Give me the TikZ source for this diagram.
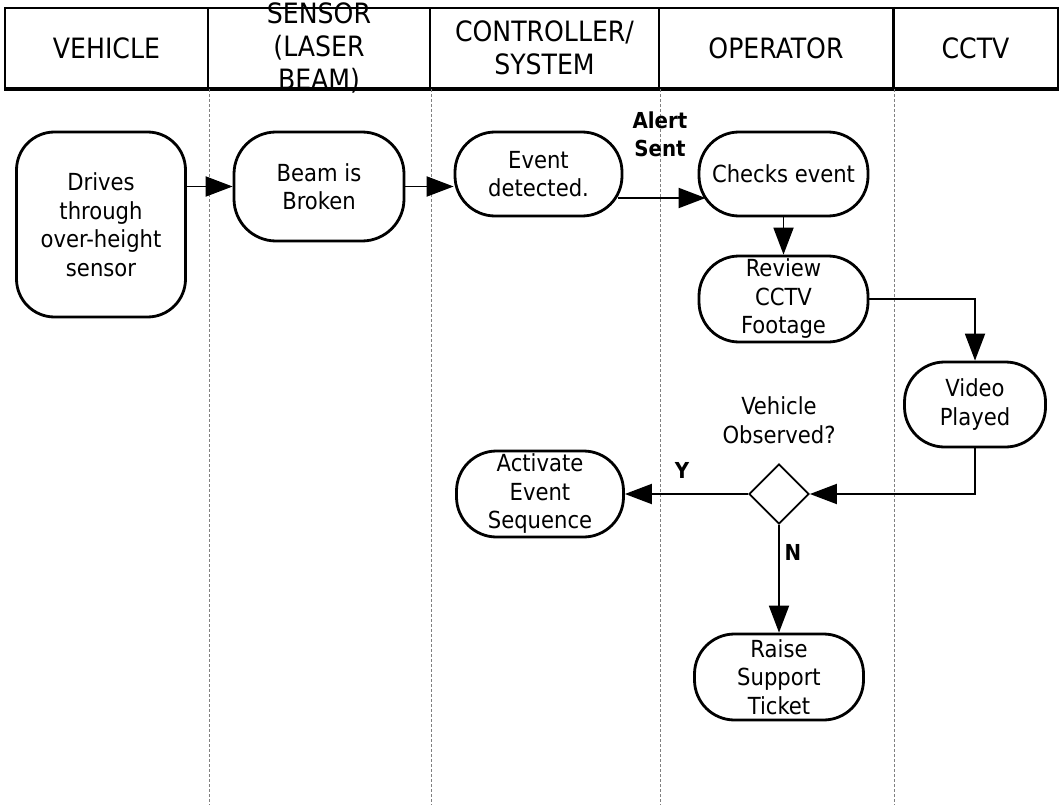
\documentclass[tikz,border=0pt]{standalone}
\usepackage{fontspec}
\setmainfont{DejaVu Sans Condensed}
\usetikzlibrary{arrows.meta,shapes.geometric}
\newcommand\flowbody{\fontsize{23.5}{28.5}\selectfont}
\newcommand\flowhead{\fontsize{28}{33}\selectfont}
\newcommand\flowtag{\fontsize{22}{28}\selectfont\bfseries}
\begin{document}
\begin{tikzpicture}[x=1pt,y=-1pt,
  lanehead/.style={draw,line width=2pt,inner sep=0pt,minimum height=80pt},
  headtext/.style={align=center,font=\flowhead,inner sep=0pt},
  lanerule/.style={gray,line width=0.9pt,dash pattern=on 3pt off 2pt},
  proc/.style={draw,line width=2.8pt,inner sep=0pt,align=center,font=\flowbody},
  decide/.style={draw,diamond,line width=1.8pt,inner sep=0pt,minimum width=60pt,minimum height=60pt},
  flow/.style={line width=1.9pt,-{Triangle[length=27pt,width=20pt]}},
  tag/.style={align=center,font=\flowtag,inner sep=0pt},
  note/.style={align=center,font=\flowbody,inner sep=0pt}]
\useasboundingbox (0,0) rectangle (1062,805);

% swimlane header cells
\node[lanehead,minimum width=203pt] (hv) at (106.5,48) {};
\node[lanehead,minimum width=222pt] (hs) at (319,48) {};
\node[lanehead,minimum width=229pt] (hc) at (544.5,48) {};
\node[lanehead,minimum width=234pt] (ho) at (776,48) {};
\node[lanehead,minimum width=165pt] (hk) at (975.5,48) {};
\node[headtext] (tv) at (hv) {VEHICLE};
\node[headtext] (ts) at (hs) {SENSOR\\(LASER\\BEAM)};
\node[headtext] (tc) at (hc) {CONTROLLER/\\SYSTEM};
\node[headtext] (to) at (ho) {OPERATOR};
\node[headtext] (tk) at (hk) {CCTV};
\draw[line width=3.2pt] (hv.south west) -- (hk.south east);
\draw[line width=2.8pt] (ho.north east) -- (ho.south east);

% lane separators
\foreach \h in {hv,hs,hc,ho}
  \draw[lanerule] (\h.south east) -- ++(0,717);

% process steps
\node[proc,minimum width=169pt,minimum height=185pt,rounded corners=38pt] (drives) at (101,224.5) {Drives\\through\\over-height\\sensor};
\node[proc,minimum width=170pt,minimum height=109pt,rounded corners=42pt] (beam) at (319,186.5) {Beam is\\Broken};
\node[proc,minimum width=167pt,minimum height=84pt,rounded corners=40pt] (event) at (538.5,174) {Event\\detected.};
\node[proc,minimum width=169pt,minimum height=84pt,rounded corners=40pt] (checks) at (783.5,174) {Checks event};
\node[proc,minimum width=169pt,minimum height=86pt,rounded corners=40pt] (review) at (783.5,299) {Review\\CCTV\\Footage};
\node[proc,minimum width=141pt,minimum height=85pt,rounded corners=40pt] (video) at (975,404.5) {Video\\Played};
\node[decide] (dia) at (779,494) {};
\node[proc,minimum width=167pt,minimum height=86pt,rounded corners=40pt] (act) at (540,494) {Activate\\Event\\Sequence};
\node[proc,minimum width=169pt,minimum height=86pt,rounded corners=40pt] (raise) at (779,677) {Raise\\Support\\Ticket};

% labels
\node[tag] (alert) at (660,134) {Alert\\Sent};
\node[note] (question) at (779,420) {Vehicle\\Observed?};
\node[tag] (yes) at (682,470) {Y};
\node[tag] (no) at (793,552) {N};

% connectors
\draw[flow] (drives.east |- beam.west) -- (beam.west);
\draw[flow] (beam.east) -- (beam.east -| event.west);
\draw[flow] ([shift={(-5,24)}]event.east) -- ([shift={(8,24)}]checks.west);
\draw[flow] (checks.south) -- (review.north);
\draw[flow] (review.east) -| (video.north);
\draw[flow] (video.south) |- (dia.east);
\draw[flow] (dia.west) -- (act.east);
\draw[flow] (dia.south) -- (raise.north);
\end{tikzpicture}
\end{document}
